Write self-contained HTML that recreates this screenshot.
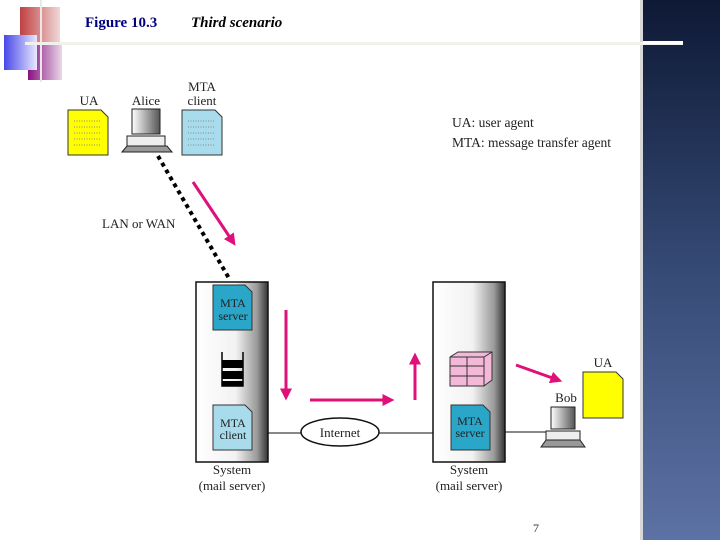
<!DOCTYPE html>
<html><head><meta charset="utf-8"><style>
html,body{margin:0;padding:0;background:#fff;}
svg{display:block;}
text{font-family:"Liberation Serif",serif;}
</style></head><body>
<svg width="720" height="540" viewBox="0 0 720 540" xmlns="http://www.w3.org/2000/svg">
<defs>
<linearGradient id="panel" x1="0" y1="0" x2="0" y2="1">
<stop offset="0" stop-color="#0e1935"/><stop offset="0.5" stop-color="#354a75"/><stop offset="1" stop-color="#5d72a4"/>
</linearGradient>
<linearGradient id="box" x1="0" y1="0" x2="1" y2="0">
<stop offset="0" stop-color="#fff"/><stop offset="0.55" stop-color="#f2f2f2"/><stop offset="0.85" stop-color="#999"/><stop offset="1" stop-color="#333"/>
</linearGradient>
<linearGradient id="red" x1="0" y1="0" x2="1" y2="0"><stop offset="0" stop-color="#c04040"/><stop offset="1" stop-color="#f0d8d8"/></linearGradient>
<linearGradient id="blue" x1="0" y1="0" x2="1" y2="0"><stop offset="0" stop-color="#4848e8"/><stop offset="1" stop-color="#e8e8ff"/></linearGradient>
<linearGradient id="purp" x1="0" y1="0" x2="1" y2="0"><stop offset="0" stop-color="#8a1080"/><stop offset="1" stop-color="#e8d8e8"/></linearGradient>
<linearGradient id="mon" x1="0" y1="0" x2="1" y2="0"><stop offset="0" stop-color="#fff"/><stop offset="1" stop-color="#555"/></linearGradient>
<marker id="ah" markerWidth="4" markerHeight="4" refX="2.5" refY="2" orient="auto" markerUnits="strokeWidth"><path d="M0,0 L4,2 L0,4 z" fill="#e0107a"/></marker>
</defs>
<rect x="643" y="0" width="77" height="540" fill="url(#panel)"/>
<rect x="640" y="0" width="3" height="540" fill="#d8d8d8"/>
<rect x="20" y="7" width="40" height="36" fill="url(#red)"/>
<rect x="28" y="43" width="34" height="37" fill="url(#purp)"/>
<rect x="4" y="35" width="33" height="35" fill="url(#blue)"/>
<rect x="40" y="0" width="2" height="82" fill="#e8e8e8"/>
<rect x="25" y="42" width="658" height="3" fill="#f0f0ec"/>
<rect x="643" y="41" width="40" height="3" fill="#fff"/>
<text x="85" y="27" font-size="15" font-weight="bold" fill="#000080">Figure 10.3</text>
<text x="191" y="27" font-size="15" font-weight="bold" font-style="italic" fill="#000">Third scenario</text>
<g font-size="13" fill="#222" text-anchor="middle">
<text x="89" y="105">UA</text><text x="146" y="105">Alice</text>
<text x="202" y="91">MTA</text><text x="202" y="105">client</text>
</g>
<path d="M68,110 H101 L108,117 V155 H68 Z" fill="#ffff00" stroke="#333"/>
<path d="M182,110 H215 L222,117 V155 H182 Z" fill="#a8dcec" stroke="#333"/>
<g stroke="#888" stroke-dasharray="1,1.5">
<line x1="74" y1="121" x2="100" y2="121"/><line x1="74" y1="127" x2="100" y2="127"/><line x1="74" y1="133" x2="100" y2="133"/><line x1="74" y1="139" x2="100" y2="139"/><line x1="74" y1="145" x2="100" y2="145"/>
<line x1="188" y1="121" x2="214" y2="121"/><line x1="188" y1="127" x2="214" y2="127"/><line x1="188" y1="133" x2="214" y2="133"/><line x1="188" y1="139" x2="214" y2="139"/><line x1="188" y1="145" x2="214" y2="145"/>
<line x1="589" y1="382" x2="615" y2="382"/><line x1="589" y1="389" x2="615" y2="389"/><line x1="589" y1="396" x2="615" y2="396"/><line x1="589" y1="403" x2="615" y2="403"/><line x1="589" y1="410" x2="615" y2="410"/>
</g>
<rect x="132" y="109" width="28" height="25" fill="url(#mon)" stroke="#222"/>
<rect x="127" y="136" width="38" height="10" fill="#eee" stroke="#222"/>
<path d="M122,152 L127,146 H167 L172,152 Z" fill="#999" stroke="#222"/>
<line x1="158" y1="156" x2="230" y2="280" stroke="#000" stroke-width="4" stroke-dasharray="4,4"/>
<text x="102" y="228" font-size="13" fill="#222">LAN or WAN</text>
<line x1="193" y1="182" x2="233" y2="242" stroke="#e0107a" stroke-width="3" marker-end="url(#ah)"/>
<text x="452" y="127" font-size="13.5" fill="#222">UA: user agent</text>
<text x="452" y="147" font-size="13.5" fill="#222">MTA: message transfer agent</text>
<rect x="196" y="282" width="72" height="180" fill="url(#box)" stroke="#111" stroke-width="1.5"/>
<path d="M213,285 H245 L252,292 V330 H213 Z" fill="#2aa6c8" stroke="#333"/>
<text x="233" y="307" font-size="12" text-anchor="middle" fill="#222">MTA</text>
<text x="233" y="320" font-size="12" text-anchor="middle" fill="#222">server</text>
<path d="M222,352 V386 H243 V352" fill="none" stroke="#000" stroke-width="1.5"/>
<rect x="222" y="360" width="21" height="8" fill="#000"/><rect x="222" y="371" width="21" height="8" fill="#000"/><rect x="222" y="381" width="21" height="5" fill="#000"/>
<path d="M213,405 H245 L252,412 V450 H213 Z" fill="#a8dcec" stroke="#333"/>
<text x="233" y="427" font-size="12" text-anchor="middle" fill="#222">MTA</text>
<text x="233" y="439" font-size="12" text-anchor="middle" fill="#222">client</text>
<g font-size="13" fill="#222" text-anchor="middle">
<text x="232" y="474">System</text><text x="232" y="490">(mail server)</text>
<text x="469" y="474">System</text><text x="469" y="490">(mail server)</text>
</g>
<line x1="286" y1="310" x2="286" y2="396" stroke="#e0107a" stroke-width="3" marker-end="url(#ah)"/>
<line x1="310" y1="400" x2="390" y2="400" stroke="#e0107a" stroke-width="3" marker-end="url(#ah)"/>
<line x1="415" y1="400" x2="415" y2="357" stroke="#e0107a" stroke-width="3" marker-end="url(#ah)"/>
<line x1="516" y1="365" x2="558" y2="380" stroke="#e0107a" stroke-width="3" marker-end="url(#ah)"/>
<line x1="268" y1="433" x2="302" y2="433" stroke="#111"/>
<line x1="378" y1="433" x2="451" y2="433" stroke="#111"/>
<ellipse cx="340" cy="432" rx="39" ry="14" fill="#fff" stroke="#111" stroke-width="1.5"/>
<text x="340" y="437" font-size="13" text-anchor="middle" fill="#222">Internet</text>
<rect x="433" y="282" width="72" height="180" fill="url(#box)" stroke="#111" stroke-width="1.5"/>
<path d="M450,357 L458,352 H492 V380 L484,386 H450 Z" fill="#f4b8d8" stroke="#333"/>
<path d="M484,357 L492,352 M484,357 V386 M450,357 H484 M450,366 H484 M450,376 H484 M467,357 V386" stroke="#333" fill="none"/>
<path d="M451,405 H483 L490,412 V450 H451 Z" fill="#2aa6c8" stroke="#333"/>
<text x="470" y="425" font-size="12" text-anchor="middle" fill="#222">MTA</text>
<text x="470" y="437" font-size="12" text-anchor="middle" fill="#222">server</text>
<line x1="505" y1="432" x2="548" y2="432" stroke="#111"/>
<text x="566" y="402" font-size="13" text-anchor="middle" fill="#222">Bob</text>
<rect x="551" y="407" width="24" height="22" fill="url(#mon)" stroke="#222"/>
<rect x="546" y="431" width="34" height="9" fill="#eee" stroke="#222"/>
<path d="M541,447 L546,440 H580 L585,447 Z" fill="#999" stroke="#222"/>
<text x="603" y="367" font-size="13" text-anchor="middle" fill="#222">UA</text>
<path d="M583,372 H616 L623,379 V418 H583 Z" fill="#ffff00" stroke="#333"/>
<text x="533" y="532" font-size="12" font-family="Liberation Sans, sans-serif" fill="#333">7</text>
</svg>
</body></html>
